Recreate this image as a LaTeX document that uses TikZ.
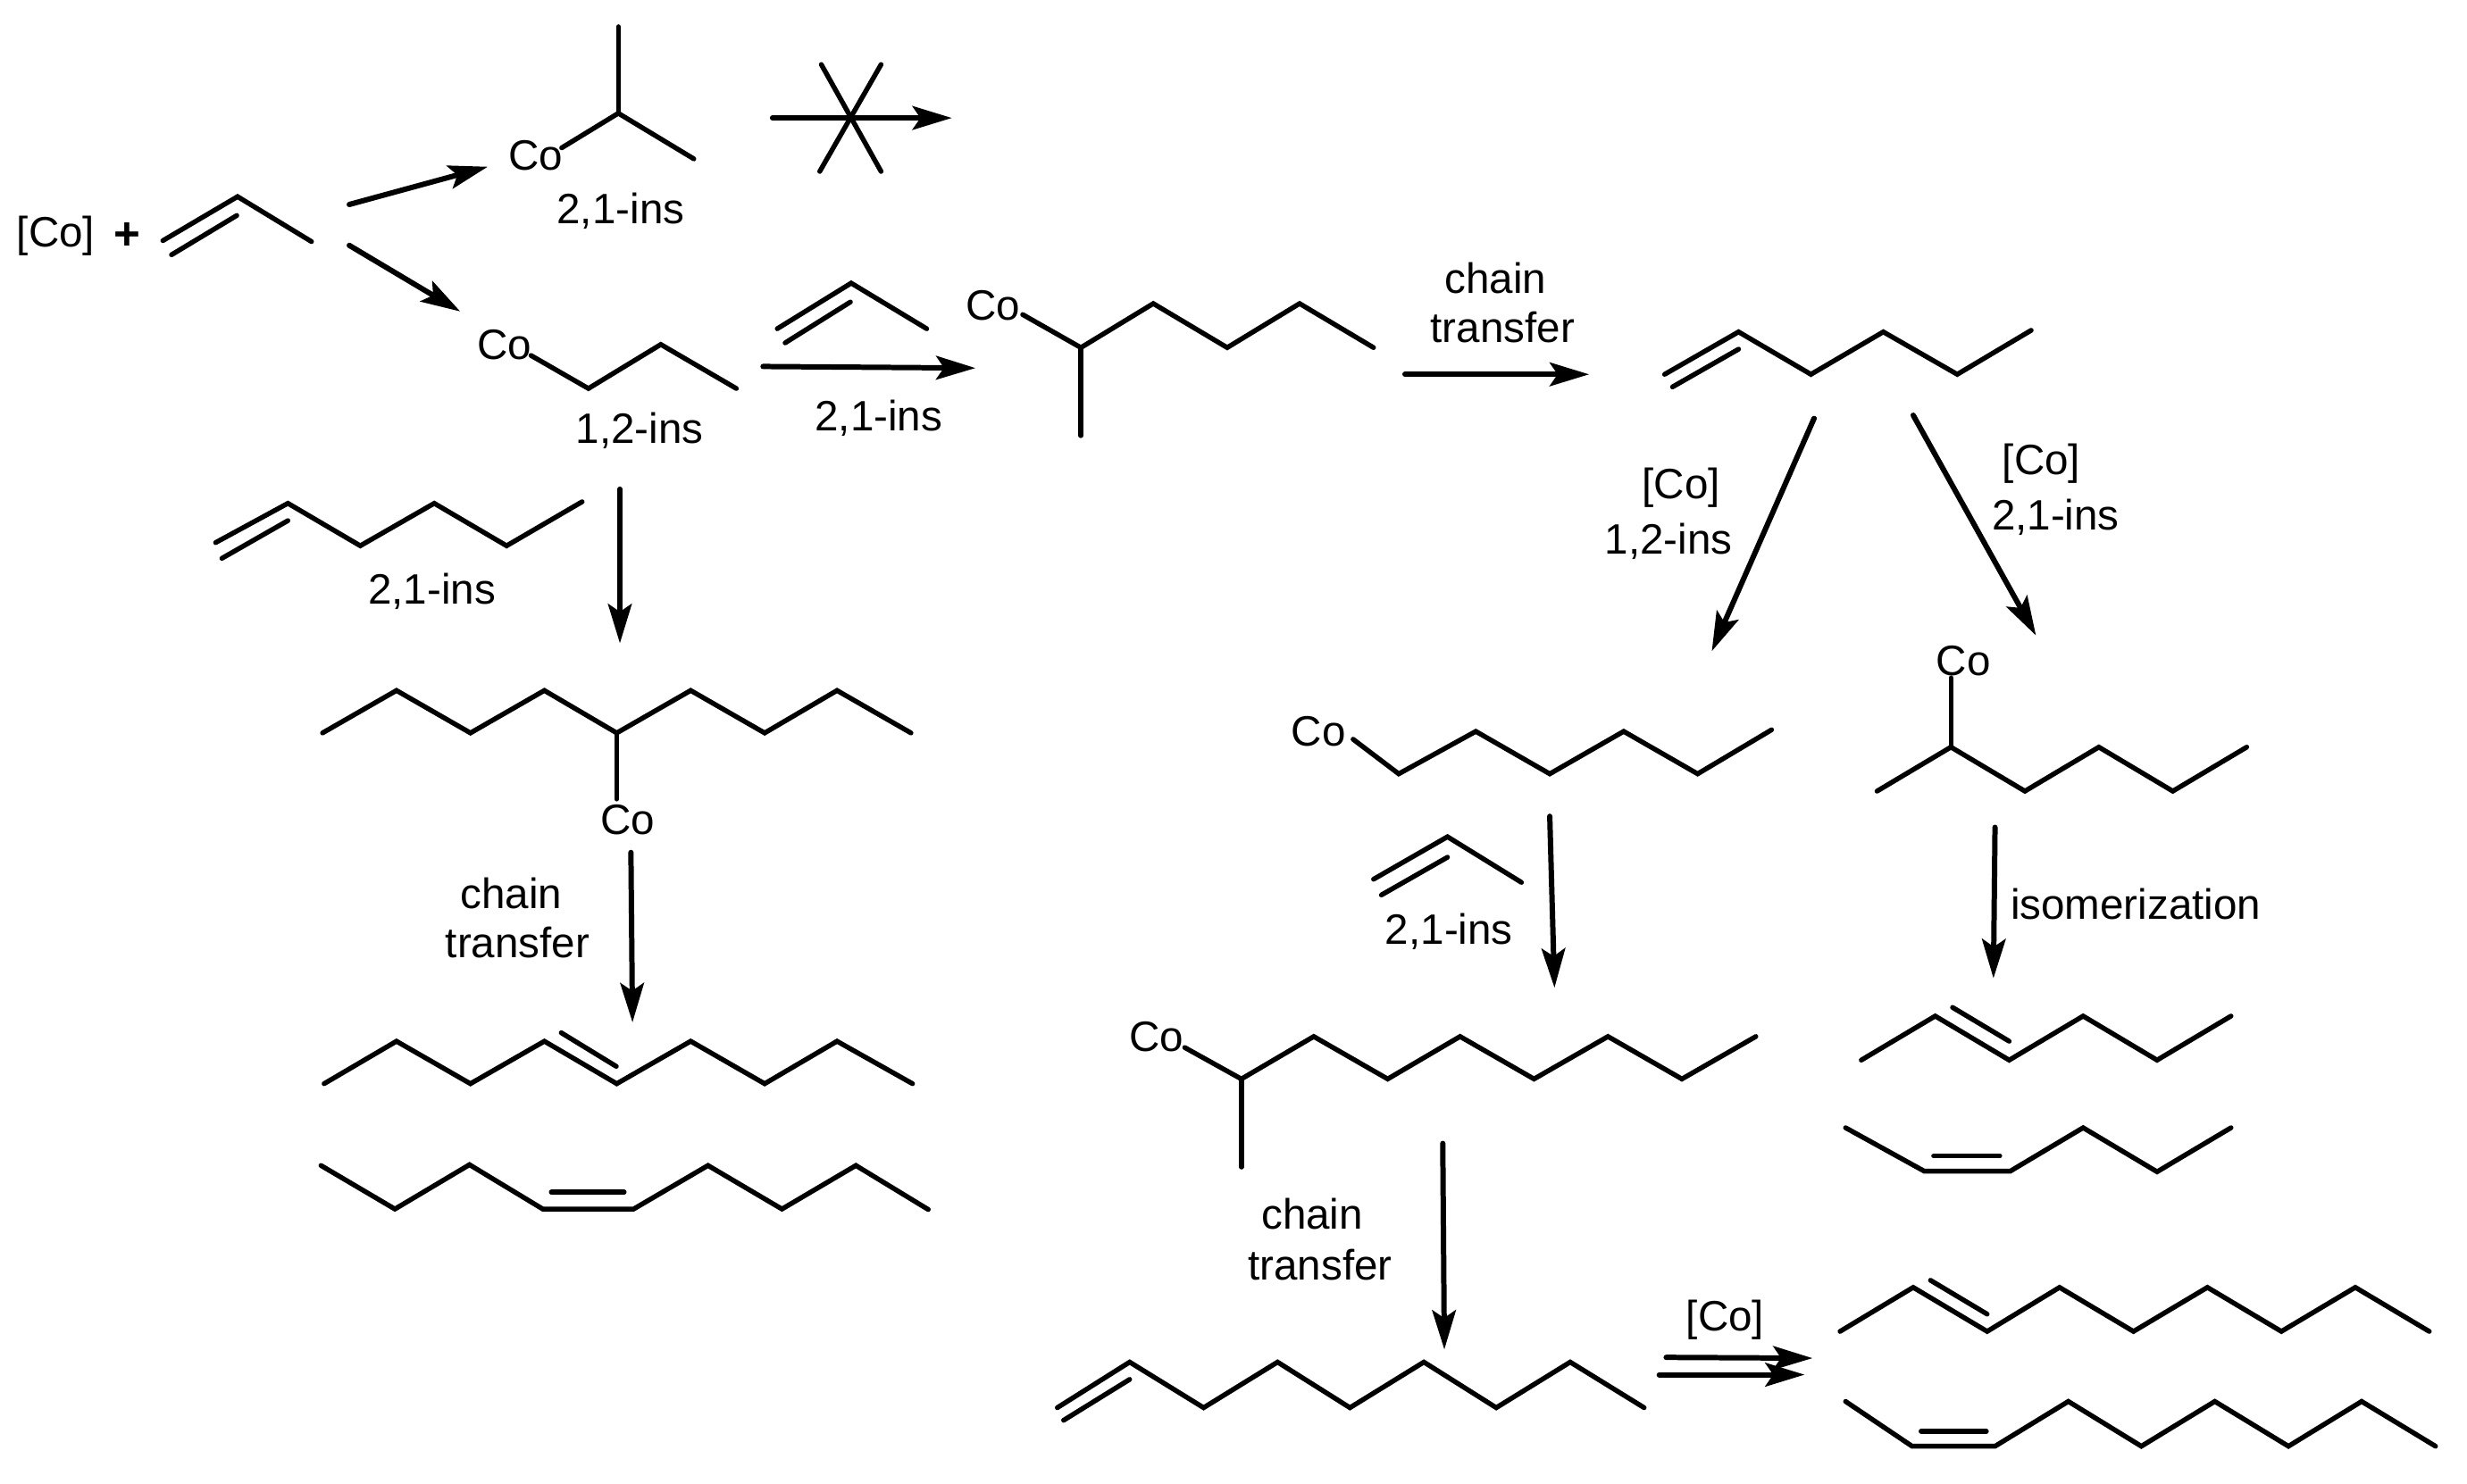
\documentclass[tikz,border=0pt]{standalone}
\usepackage{fontspec}
\setmainfont{Liberation Sans}
\usetikzlibrary{arrows.meta}
\tikzset{
  bond/.style={line width=1.55pt,line cap=round,line join=miter},
  rxn/.style={line width=1.7pt,line cap=round,-{Stealth[length=12.5pt,width=7.5pt,inset=2.5pt]}},
  lab/.style={font=\fontsize{13.5pt}{16pt}\selectfont,inner sep=0pt,anchor=center},
}
\begin{document}
\begin{tikzpicture}[x=0.5pt,y=-0.5pt]
\useasboundingbox (0,0) rectangle (1568,943);
% labels
\node[lab] (co0) at (35.5,150) {[Co]};
\node[lab,font=\fontsize{14.5pt}{16pt}\selectfont\bfseries] (plus) at (81,150) {+};
\node[lab] (co1) at (340.5,99) {Co};
\node[lab] (l1) at (394.5,134) {2,1-ins};
\node[lab] (co2) at (320.5,219) {Co};
\node[lab] (l2) at (406.5,274) {1,2-ins};
\node[lab] (l3) at (558.5,266) {2,1-ins};
\node[lab] (co3) at (631,194) {Co};
\node[lab] (l4a) at (950.5,177) {chain};
\node[lab] (l4b) at (955,208) {transfer};
\node[lab] (l5a) at (1068.5,310) {[Co]};
\node[lab] (l5b) at (1060.5,344) {1,2-ins};
\node[lab] (l6a) at (1297.5,295) {[Co]};
\node[lab] (l6b) at (1306.5,329) {2,1-ins};
\node[lab] (co4) at (838,465) {Co};
\node[lab] (co5) at (1248,420) {Co};
\node[lab] (l7) at (1357.5,575) {isomerization};
\node[lab] (l8) at (921,592) {2,1-ins};
\node[lab] (co6) at (735,659) {Co};
\node[lab] (l9a) at (834,772) {chain};
\node[lab] (l9b) at (839,804) {transfer};
\node[lab] (l10) at (1096.5,839) {[Co]};
\node[lab] (l11) at (274.5,376) {2,1-ins};
\node[lab] (co7) at (399,521) {Co};
\node[lab] (l12a) at (325,568) {chain};
\node[lab] (l12b) at (329,599) {transfer};
% arrows
\draw[rxn] (222,130) -- (310,106);
\draw[rxn] (222,156) -- (292.5,198);
\draw[rxn] (491,75) -- (605,75);
\draw[bond] (522,41) -- (560,109);
\draw[bond] (560,41) -- (521,109);
\draw[rxn] (485,233) -- (620,234);
\draw[rxn] (893,238) -- (1010,238);
\draw[rxn] (1153,266) -- (1088,414);
\draw[rxn] (1216,264) -- (1294,404);
\draw[rxn] (1268,526) -- (1267,622);
\draw[rxn] (985,519) -- (988,628);
\draw[rxn] (917,727) -- (918,858);
\draw[rxn] (1059,863) -- (1152,863.5);
\draw[rxn] (1054.6,874) -- (1147,874);
\draw[rxn] (394,311) -- (394,409);
\draw[rxn] (401,542) -- (402,650);
% propene
\draw[bond] (103.5,153) -- (151,125) -- (198,153.6);
\draw[bond] (109,162) -- (150.5,137);
% Co isopropyl
\draw[bond] (357,94) -- (393,72) -- (441,101);
\draw[bond] (393,72) -- (393,17);
% Co propyl
\draw[bond] (337.5,226) -- (374,247) -- (420,219) -- (468,247);
% propene 2
\draw[bond] (494,209) -- (541,180) -- (589,209);
\draw[bond] (499,218) -- (540.5,192);
% Co hexyl branched
\draw[bond] (650,200) -- (687,221) -- (733,193) -- (780,221) -- (826,193) -- (873,221);
\draw[bond] (687,221) -- (687,277);
% hexene
\draw[bond] (1058,238) -- (1105,211) -- (1151,238) -- (1197,211) -- (1244,238) -- (1291,210);
\draw[bond] (1063,246) -- (1105,222);
% Co hexyl
\draw[bond] (860,470) -- (889,492) -- (938,465) -- (985,492) -- (1032,465) -- (1079,492) -- (1126,464);
% Co 2-hexyl
\draw[bond] (1240,431) -- (1240,475);
\draw[bond] (1193,503) -- (1240,475) -- (1287,503) -- (1334,475) -- (1381,503) -- (1428,475);
% 2-hexene E
\draw[bond] (1183,674) -- (1230,646) -- (1277,674) -- (1324,646) -- (1371,674) -- (1418,646);
\draw[bond] (1241,640.5) -- (1277,662);
% 2-hexene Z
\draw[bond] (1173,717) -- (1223,744.6) -- (1277.7,744.6) -- (1324,717) -- (1371,745) -- (1418,717);
\draw[bond] (1229,735) -- (1271,735);
% propene 3
\draw[bond] (873,559) -- (920,532) -- (967,561);
\draw[bond] (878,569) -- (920,545);
% Co branched octyl
\draw[bond] (753,666) -- (789,686) -- (835,659) -- (882,686) -- (928,659) -- (975,686) -- (1022,659) -- (1069,686) -- (1116,659);
\draw[bond] (789,686) -- (789,742);
% decene
\draw[bond] (672,895) -- (718,866) -- (765,895) -- (812,866) -- (858,895) -- (905,866) -- (951,895) -- (998,866) -- (1045,895);
\draw[bond] (676,903) -- (718,877);
% right E
\draw[bond] (1169.5,846.5) -- (1216,818.5) -- (1263,846.5) -- (1309,818.5) -- (1356,846.5) -- (1403,818.5) -- (1450,846.5) -- (1497,818.5) -- (1544,846.5);
\draw[bond] (1227,814) -- (1263,835.5);
% right Z
\draw[bond] (1173,891) -- (1215.3,919.5) -- (1268,919.5) -- (1314.6,891) -- (1361,919.5) -- (1407.7,891) -- (1454.5,919.5) -- (1501,891) -- (1548,919.5);
\draw[bond] (1221,910) -- (1262.5,910);
% left hexene
\draw[bond] (137,345) -- (183,320) -- (229,347) -- (276,320) -- (322,347) -- (370,319);
\draw[bond] (141,355) -- (183,331);
% left chain
\draw[bond] (205,466) -- (252,439) -- (299,466) -- (346,439) -- (392,466) -- (439,439) -- (486,466) -- (532,439) -- (579,466);
\draw[bond] (392,466) -- (392,508);
% left E
\draw[bond] (206,689) -- (252,662) -- (299,689) -- (346,662) -- (392,689) -- (439,662) -- (486,689) -- (532,662) -- (580,689);
\draw[bond] (356.7,656.6) -- (391.7,678);
% left Z
\draw[bond] (204,741) -- (251,768.7) -- (298.4,740.5) -- (345,768.7) -- (402.7,768.7) -- (450,741) -- (497,768.7) -- (544,741) -- (590,769);
\draw[bond] (350.4,758) -- (396.7,758);
\end{tikzpicture}
\end{document}
